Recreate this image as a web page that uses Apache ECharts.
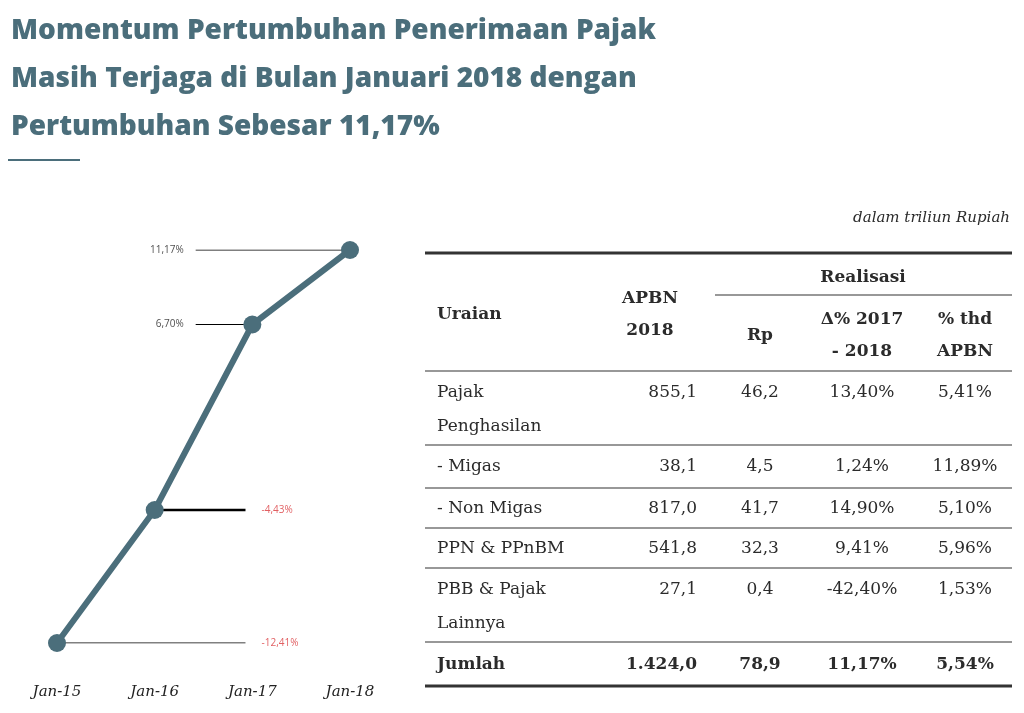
<!DOCTYPE html>
<html>
<head>
<meta charset="utf-8">
<script src="https://cdn.jsdelivr.net/npm/echarts@6/dist/echarts.min.js"></script>
<style>
  html, body { margin: 0; padding: 0; background: #fff; }
  #main { width: 1024px; height: 713px; }
</style>
</head>
<body>
<div id="main"></div>
<script>
// data
var categories = ['Jan-15', 'Jan-16', 'Jan-17', 'Jan-18'];
var growth = [-12.41, -4.43, 6.70, 11.17];
var growthLabels = ['-12,41%', '-4,43%', '6,70%', '11,17%'];

var rowNames = [['Pajak', 'Penghasilan'], ['- Migas'], ['- Non Migas'], ['PPN & PPnBM'], ['PBB & Pajak', 'Lainnya'], ['Jumlah']];
var apbn = ['855,1', '38,1', '817,0', '541,8', '27,1', '1.424,0'];
var rp = ['46,2', '4,5', '41,7', '32,3', '0,4', '78,9'];
var delta = ['13,40%', '1,24%', '14,90%', '9,41%', '-42,40%', '11,17%'];
var thdApbn = ['5,41%', '11,89%', '5,10%', '5,96%', '1,53%', '5,54%'];

var TEAL = '#4b6e7b';
var SERIF = '"DejaVu Serif", "Liberation Serif", serif';

// leader line ranges (x in category units) per point
var leaderFrom = [0, 1, 1.42, 1.42];
var leaderTo = [1.93, 1.93, 2, 3];
var leaderSide = ['right', 'right', 'left', 'left'];

var chart = echarts.init(document.getElementById('main'));

var series = [];
growth.forEach(function (v, i) {
  series.push({
    type: 'line',
    data: [[leaderFrom[i], v], [leaderTo[i], v]],
    symbol: 'none',
    silent: true,
    z: 1,
    lineStyle: { color: '#000', width: i === 1 ? 2.5 : 1 }
  });
});
// leader labels
series.push({
  type: 'scatter',
  symbolSize: 0,
  silent: true,
  data: growth.map(function (v, i) {
    var right = leaderSide[i] === 'right';
    return {
      value: [right ? leaderTo[i] : leaderFrom[i], v],
      label: {
        show: true, position: right ? 'right' : 'left', distance: right ? 16 : 12,
        formatter: growthLabels[i], color: right ? '#d9373b' : '#222',
        fontSize: 10, fontFamily: 'Open Sans'
      }
    };
  })
});
series.push({
  type: 'line',
  data: growth.map(function (v, i) { return [i, v]; }),
  z: 3,
  symbol: 'circle',
  symbolSize: 18,
  lineStyle: { color: TEAL, width: 6 },
  itemStyle: { color: TEAL }
});

// table
var g = [];
function txt(x, y, s, align, bold, size, italic) {
  g.push({ type: 'text', x: x, y: y, style: {
    text: s, textAlign: align || 'left', textVerticalAlign: 'middle',
    fill: '#2b2b2b', font: (italic ? 'italic ' : '') + (bold ? 'bold ' : '') + (size || 17) + 'px ' + SERIF
  }});
}
function hline(x1, x2, y, w) {
  g.push({ type: 'line', shape: { x1: x1, y1: y, x2: x2, y2: y }, style: { stroke: '#333', lineWidth: w } });
}
txt(1010, 218, 'dalam triliun Rupiah', 'right', false, 15, true);
hline(425, 1012, 253, 3);
txt(863, 278, 'Realisasi', 'center', true);
hline(715, 1012, 295, 1.2);
txt(437, 315, 'Uraian', 'left', true);
txt(650, 299, 'APBN', 'center', true);
txt(650, 331, '2018', 'center', true);
txt(760, 336, 'Rp', 'center', true);
txt(862, 320, '\u0394% 2017', 'center', true);
txt(862, 352, '- 2018', 'center', true);
txt(965, 320, '% thd', 'center', true);
txt(965, 352, 'APBN', 'center', true);
hline(425, 1012, 371, 1.2);
var rowY = [393, 467, 509, 549, 590, 665];
var lineY = [445, 488, 528, 568, 642, 686];
rowNames.forEach(function (n, i) {
  var bold = i === rowNames.length - 1;
  n.forEach(function (s, k) { txt(437, rowY[i] + k * 34, s, 'left', bold); });
  txt(697, rowY[i], apbn[i], 'right', bold);
  txt(760, rowY[i], rp[i], 'center', bold);
  txt(862, rowY[i], delta[i], 'center', bold);
  txt(965, rowY[i], thdApbn[i], 'center', bold);
  hline(425, 1012, lineY[i], bold ? 3 : 1.2);
});
g.push({ type: 'line', shape: { x1: 8, y1: 160, x2: 80, y2: 160 }, style: { stroke: TEAL, lineWidth: 2 } });

chart.setOption({
  backgroundColor: '#fff',
  animation: false,
  title: {
    text: 'Momentum Pertumbuhan Penerimaan Pajak\nMasih Terjaga di Bulan Januari 2018 dengan\nPertumbuhan Sebesar 11,17%',
    left: 6, top: 2,
    textStyle: { color: TEAL, fontSize: 28, fontWeight: 800, lineHeight: 48, fontFamily: '"Open Sans", sans-serif' }
  },
  grid: { left: 57, right: 674, top: 250, bottom: 70 },
  xAxis: {
    type: 'value', min: 0, max: 3, interval: 1,
    axisLine: { show: false }, axisTick: { show: false }, splitLine: { show: false },
    axisLabel: {
      formatter: function (v) { return categories[v] || ''; },
      margin: 42, color: '#222', fontSize: 15, fontStyle: 'italic', fontFamily: SERIF
    }
  },
  yAxis: {
    type: 'value', min: -12.41, max: 11.17, show: false
  },
  series: series,
  graphic: g
});
</script>
</body>
</html>
